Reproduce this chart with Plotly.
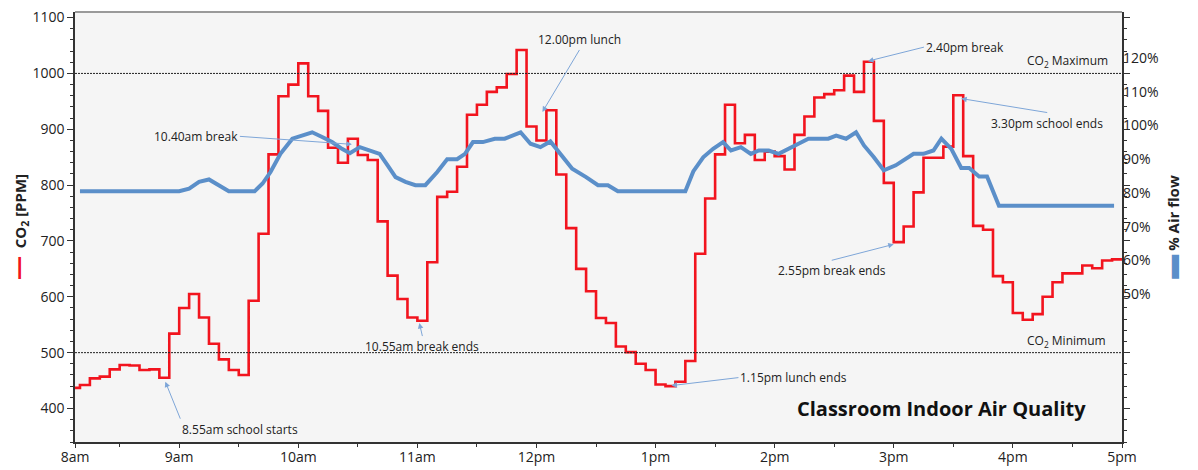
import pandas as pd
import plotly.graph_objects as go

DAY = "2023-05-10 "

# CO2 в ppm, ступенька каждые 5 минут начиная с 8:05
co2_start = "08:05"
co2_ppm = [
    437, 442, 454, 457, 470, 478, 477, 469, 470, 455, 534, 580,   # 8:05 - 9:00
    605, 563, 516, 488, 469, 460, 593, 713, 855, 959, 980,        # 9:05 - 9:55
    1018, 959, 933, 867, 840, 883, 854, 845, 735, 638, 596, 563,  # 10:00 - 10:55
    557, 662, 779, 788, 833, 926, 944, 967, 975, 999, 1042, 905,  # 11:00 - 11:55
    880, 934, 819, 723, 650, 610, 562, 553, 511, 501, 480, 469,   # 12:00 - 12:55
    443, 440, 448, 485, 677, 776, 855, 944, 875, 890, 845, 860,   # 13:00 - 13:55
    852, 828, 890, 923, 957, 963, 970, 996, 967, 1021, 915, 804,  # 14:00 - 14:55
    698, 726, 787, 849, 849, 869, 961, 852, 727, 720, 637, 626,   # 15:00 - 15:55
    571, 559, 569, 600, 626, 642, 642, 656, 651, 665, 667, 667,   # 16:00 - 16:55
]

# расход воздуха в %
airflow_time = [
    "08:10", "09:00", "09:05", "09:10", "09:15", "09:20", "09:25", "09:38",
    "09:42", "09:46", "09:51", "09:57", "10:02", "10:07", "10:12", "10:17",
    "10:22", "10:26", "10:31", "10:35", "10:41", "10:45", "10:49", "10:54",
    "10:59", "11:04", "11:10", "11:15", "11:20", "11:24", "11:28", "11:33",
    "11:39", "11:44", "11:48", "11:52", "11:57", "12:02", "12:07", "12:12",
    "12:18", "12:25", "12:31", "12:36", "12:41", "13:15", "13:19", "13:24",
    "13:29", "13:34", "13:38", "13:43", "13:48", "13:52", "13:57", "14:02",
    "14:08", "14:12", "14:17", "14:22", "14:27", "14:31", "14:36", "14:41",
    "14:45", "14:50", "14:55", "15:01", "15:05", "15:10", "15:15", "15:20",
    "15:24", "15:29", "15:34", "15:38", "15:43", "15:47", "15:53", "16:51",
]
airflow_pct = [
    80.5, 80.5, 81.3, 83.3, 84.0, 82.3, 80.5, 80.5,
    82.8, 86.2, 91.6, 96.1, 97.2, 98.0, 96.6, 95.1,
    93.1, 91.8, 93.6, 92.9, 91.6, 88.2, 84.7, 83.3,
    82.3, 82.3, 86.2, 90.0, 90.0, 91.6, 95.1, 95.1,
    96.1, 96.1, 97.0, 98.0, 94.6, 93.6, 95.3, 91.6,
    87.2, 84.7, 82.3, 82.3, 80.5, 80.5, 86.4, 90.6,
    93.1, 95.1, 92.6, 93.6, 91.6, 92.6, 92.6, 91.6,
    93.6, 94.6, 96.1, 96.1, 96.1, 97.0, 96.1, 98.0,
    94.1, 90.6, 86.7, 88.2, 89.7, 91.6, 91.6, 92.6,
    96.1, 93.1, 87.4, 87.4, 84.9, 84.9, 76.2, 76.2,
]

hour_labels = ["8am", "9am", "10am", "11am", "12pm", "1pm", "2pm", "3pm", "4pm", "5pm"]
pct_ticks = [50, 60, 70, 80, 90, 100, 110, 120]

CO2_MAX = 1000
CO2_MIN = 500

# подписи: текст, острие стрелки (время, ppm), хвост (смещение в px), якоря текста у хвоста
notes = [
    ("8.55am school starts", "08:53", 448, 15, 37, "left", "top"),
    ("10.40am break", "10:27", 873, -112, -8, "right", "middle"),
    ("10.55am break ends", "11:01", 553, 3, 13, "center", "top"),
    ("12.00pm lunch", "12:03", 931, 37, -62, "center", "bottom"),
    ("1.15pm lunch ends", "13:08", 441, 67, -8, "left", "middle"),
    ("2.40pm break", "14:47", 1022, 56, -14, "left", "middle"),
    ("2.55pm break ends", "15:00", 694, -62, 16, "center", "top"),
    ("3.30pm school ends", "15:34", 955, 86, 14, "center", "top"),
]

RED = "#f2141e"
BLUE = "#5b8fc9"
ARROW = "#7ea6d8"
TEXT = "#222222"
FONT = "Open Sans"

X_START = DAY + "08:07:30"
X_END = DAY + "16:55"

co2_times = pd.date_range(DAY + co2_start, periods=len(co2_ppm), freq="5min")
air_times = [pd.Timestamp(DAY + t) for t in airflow_time]

fig = go.Figure()

# ── CO2 ступеньками ─────────────────────────────────────
fig.add_trace(go.Scatter(
    x=co2_times, y=co2_ppm,
    mode="lines",
    line=dict(color=RED, width=2.6, shape="hv"),
    name="CO2",
    yaxis="y",
))

# ── расход воздуха ─────────────────────────────────────
fig.add_trace(go.Scatter(
    x=air_times, y=airflow_pct,
    mode="lines",
    line=dict(color=BLUE, width=4),
    name="Air flow",
    yaxis="y2",
))

annotations = []
for text, px, py, dx, dy, xa, ya in notes:
    annotations.append(dict(
        x=DAY + px, y=py, xref="x", yref="y",
        ax=dx, ay=dy, axref="pixel", ayref="pixel",
        text=text, showarrow=True, xanchor=xa, yanchor=ya,
        arrowhead=2, arrowsize=1.1, arrowwidth=1, arrowcolor=ARROW,
        font=dict(size=12, color=TEXT),
    ))

annotations += [
    dict(x=0.9885, y=CO2_MAX, xref="paper", yref="y", text="CO<sub>2</sub> Maximum",
         showarrow=False, xanchor="right", yanchor="bottom", yshift=1,
         font=dict(size=12, color=TEXT)),
    dict(x=0.9865, y=CO2_MIN, xref="paper", yref="y", text="CO<sub>2</sub> Minimum",
         showarrow=False, xanchor="right", yanchor="bottom", yshift=1,
         font=dict(size=12, color=TEXT)),
    dict(x=0.9675, y=0.079, xref="paper", yref="paper", text="<b>Classroom Indoor Air Quality</b>",
         showarrow=False, xanchor="right", yanchor="middle",
         font=dict(size=20, color="#111111")),
]

shapes = [
    dict(type="line", xref="paper", x0=0, x1=1, yref="y", y0=CO2_MAX, y1=CO2_MAX,
         line=dict(color="#222", width=1, dash="2px,1px")),
    dict(type="line", xref="paper", x0=0, x1=1, yref="y", y0=CO2_MIN, y1=CO2_MIN,
         line=dict(color="#222", width=1, dash="2px,1px")),
    # серая рамка сверху
    dict(type="line", xref="paper", x0=0, x1=1, yref="paper", y0=1, y1=1,
         line=dict(color="#9a9a9a", width=2)),
]

tick_x = [X_START] + [DAY + f"{h:02d}:00" for h in range(9, 17)] + [X_END]

fig.update_layout(
    width=1198, height=470,
    paper_bgcolor="white",
    plot_bgcolor="#f5f5f5",
    font=dict(family=FONT, color=TEXT, size=14),
    showlegend=False,
    margin=dict(l=75, r=76, t=12, b=28, autoexpand=False),
    xaxis=dict(
        type="date",
        range=[X_START, X_END],
        tickmode="array", tickvals=tick_x, ticktext=hour_labels,
        ticks="outside", ticklen=4, tickcolor="#333",
        minor=dict(dtick=30 * 60 * 1000, tick0=DAY + "08:00", ticks="outside",
                   ticklen=3, tickcolor="#333"),
        showline=True, linecolor="#333", linewidth=1.5,
        showgrid=False, zeroline=False, automargin=False,
        tickfont=dict(size=14), ticklabelstandoff=-3,
    ),
    yaxis=dict(
        range=[340, 1110],
        tickvals=[400, 500, 600, 700, 800, 900, 1000, 1100],
        ticks="outside", ticklen=6, tickcolor="#333",
        minor=dict(dtick=20, ticks="outside", ticklen=3, tickcolor="#333"),
        showline=True, linecolor="#333", linewidth=1.5, mirror="ticks",
        showgrid=False, zeroline=False, automargin=False,
        tickfont=dict(size=14),
        title=dict(
            text=f"<span style='color:{RED};font-size:24px'><b>—</b></span>  <b>CO<sub>2</sub> [PPM]</b>",
            font=dict(size=15), standoff=8,
        ),
    ),
    yaxis2=dict(
        overlaying="y", side="right", anchor="x",
        range=[6.1, 133.7],
        tickvals=pct_ticks, ticktext=[f"{v}%" for v in pct_ticks],
        ticks="", showline=False, showgrid=False, zeroline=False, automargin=False,
        tickfont=dict(size=14),
        title=dict(
            text=f"<span style='color:{BLUE};font-size:24px'>▬</span> <b>% Air flow</b>",
            font=dict(size=15), standoff=10,
        ),
    ),
    annotations=annotations,
    shapes=shapes,
)

# убираем отступ body, чтобы график стоял ровно в окне
fig.write_html("out.html", config={"displayModeBar": False},
               post_script="document.body.style.margin='0';")
